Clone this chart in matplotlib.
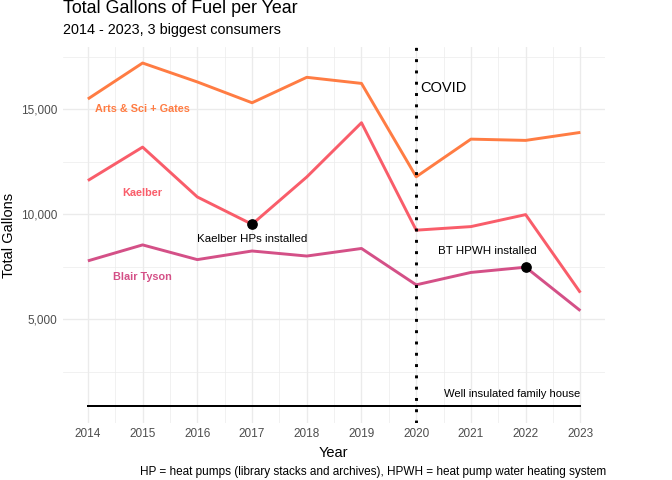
import matplotlib
matplotlib.use("Agg")
import matplotlib.pyplot as plt
from matplotlib.ticker import FuncFormatter, MultipleLocator

plt.rcParams['font.family'] = ['Liberation Sans', 'DejaVu Sans']

years = [2014, 2015, 2016, 2017, 2018, 2019, 2020, 2021, 2022, 2023]
arts_sci_gates = [15480, 17190, 16290, 15300, 16510, 16220, 11780, 13570, 13510, 13890]
kaelber = [11600, 13190, 10820, 9520, 11770, 14350, 9240, 9410, 9980, 6270]
blair_tyson = [7780, 8540, 7840, 8250, 8010, 8370, 6640, 7230, 7480, 5410]
house_level = 890
series_names = ["Arts & Sci + Gates", "Kaelber", "Blair Tyson"]
series_colors = ["#ff7c43", "#f95d6a", "#d45087"]
label_y = [15000, 11000, 7000]
covid_year = 2020

fig = plt.figure(figsize=(7, 5), dpi=96)
ax = fig.add_axes([0.0933, 0.119, 0.807, 0.783])

for name, vals, col, ly in zip(series_names, [arts_sci_gates, kaelber, blair_tyson], series_colors, label_y):
    ax.plot(years, vals, color=col, lw=2.2, solid_capstyle='butt', zorder=3)
    ax.text(2015, ly, name, color=col, fontsize=8.2, fontweight='bold', ha='center', va='center', zorder=4)

# house line
ax.plot([years[0], years[-1]], [house_level, house_level], color='black', lw=1.5, zorder=3)
ax.text(2023, 1450, "Well insulated family house", fontsize=8.4, ha='right', va='center', color='black')

# covid line
ax.axvline(covid_year, color='black', lw=2.2, linestyle=(0, (1, 2.85)), dash_capstyle='butt', zorder=3)
ax.text(2020.5, 16000, "COVID", fontsize=11, ha='center', va='center', color='black')

# events
ax.plot([2017], [kaelber[3]], 'o', color='black', ms=7, zorder=5)
ax.text(2017, 8800, "Kaelber HPs installed", fontsize=8.6, ha='center', va='center', color='black')
ax.plot([2022], [blair_tyson[8]], 'o', color='black', ms=7, zorder=5)
ax.text(2021.3, 8250, "BT HPWH installed", fontsize=8.6, ha='center', va='center', color='black')

ax.set_xlim(2013.54, 2023.45)
ax.set_ylim(75, 17950)
ax.set_xticks(years)
ax.xaxis.set_minor_locator(MultipleLocator(0.5))
ax.set_yticks([5000, 10000, 15000])
ax.set_yticks([2500, 7500, 12500, 17500], minor=True)
ax.yaxis.set_major_formatter(FuncFormatter(lambda v, p: f"{int(v):,}"))

ax.grid(which='major', color='#EBEBEB', lw=1.0, zorder=0)
ax.grid(which='minor', color='#EBEBEB', lw=0.5, zorder=0)
ax.set_axisbelow(True)
for s in ax.spines.values():
    s.set_visible(False)
ax.tick_params(which='both', length=0)
ax.tick_params(axis='both', labelsize=8.8, labelcolor='#4D4D4D', pad=4)

ax.set_xlabel("Year", fontsize=11, labelpad=4)
ax.set_ylabel("Total Gallons", fontsize=11, labelpad=4)

fig.text(0.0933, 0.973, "Total Gallons of Fuel per Year", fontsize=13.4, ha='left', va='baseline')
fig.text(0.0933, 0.9285, "2014 - 2023, 3 biggest consumers", fontsize=10.8, ha='left', va='baseline')
fig.text(0.902, 0.005, "HP = heat pumps (library stacks and archives), HPWH = heat pump water heating system",
         fontsize=8.8, ha='right', va='bottom')

fig.savefig("out.png", dpi=96)
